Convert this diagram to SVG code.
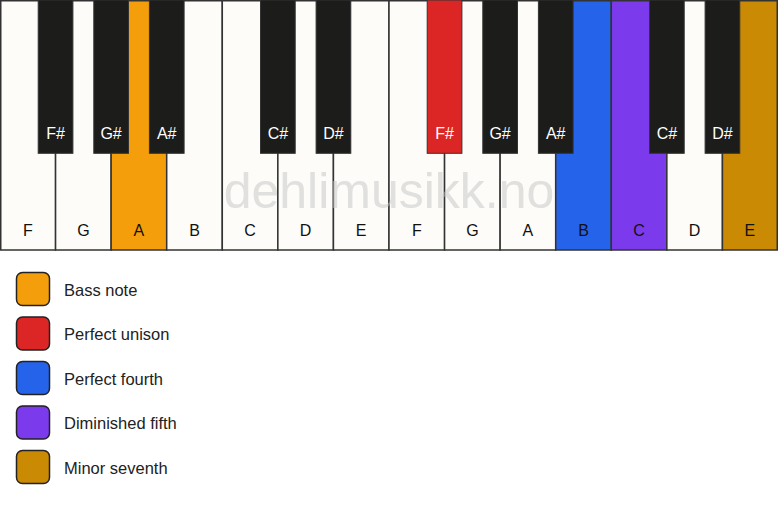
<svg xmlns="http://www.w3.org/2000/svg" width="778" height="506" viewBox="0 0 778 506">
<style>
.w{fill:#fdfcf9;stroke:#333;stroke-width:1.5}
.b{fill:#1c1c1b;stroke:#333;stroke-width:1}
.lw{font-family:"Liberation Sans",Arial,sans-serif;font-size:16px;fill:#111;text-anchor:middle}
.lb{font-family:"Liberation Sans",Arial,sans-serif;font-size:16px;fill:#fff;text-anchor:middle}
.lg{font-family:"Liberation Sans",Arial,sans-serif;font-size:16.5px;fill:#222}
.sw{stroke:#222;stroke-width:1.5}
.wm{font-family:"Liberation Sans",Arial,sans-serif;font-size:50px;fill:#c4c4c4;fill-opacity:0.5;text-anchor:middle}
</style>
<rect x="0" y="0" width="778" height="506" fill="#fff"/>
<g id="white-keys">
<g id="wk-F1"><rect class="w" x="0.75" y="0.75" width="54.82" height="249.25"/><text class="lw" x="27.8" y="236">F</text></g>
<g id="wk-G1"><rect class="w" x="55.57" y="0.75" width="55.57" height="249.25"/><text class="lw" x="83.4" y="236">G</text></g>
<g id="wk-A1"><rect class="w" x="111.14" y="0.75" width="55.57" height="249.25" style="fill:#f59e0b"/><text class="lw" x="138.9" y="236">A</text></g>
<g id="wk-B1"><rect class="w" x="166.71" y="0.75" width="55.57" height="249.25"/><text class="lw" x="194.5" y="236">B</text></g>
<g id="wk-C1"><rect class="w" x="222.29" y="0.75" width="55.57" height="249.25"/><text class="lw" x="250.1" y="236">C</text></g>
<g id="wk-D1"><rect class="w" x="277.86" y="0.75" width="55.57" height="249.25"/><text class="lw" x="305.6" y="236">D</text></g>
<g id="wk-E1"><rect class="w" x="333.43" y="0.75" width="55.57" height="249.25"/><text class="lw" x="361.2" y="236">E</text></g>
<g id="wk-F2"><rect class="w" x="389" y="0.75" width="55.57" height="249.25"/><text class="lw" x="416.8" y="236">F</text></g>
<g id="wk-G2"><rect class="w" x="444.57" y="0.75" width="55.57" height="249.25"/><text class="lw" x="472.4" y="236">G</text></g>
<g id="wk-A2"><rect class="w" x="500.14" y="0.75" width="55.57" height="249.25"/><text class="lw" x="527.9" y="236">A</text></g>
<g id="wk-B2"><rect class="w" x="555.71" y="0.75" width="55.57" height="249.25" style="fill:#2563eb"/><text class="lw" x="583.5" y="236">B</text></g>
<g id="wk-C2"><rect class="w" x="611.29" y="0.75" width="55.57" height="249.25" style="fill:#7c3aed"/><text class="lw" x="639.1" y="236">C</text></g>
<g id="wk-D2"><rect class="w" x="666.86" y="0.75" width="55.57" height="249.25"/><text class="lw" x="694.6" y="236">D</text></g>
<g id="wk-E2"><rect class="w" x="722.43" y="0.75" width="54.82" height="249.25" style="fill:#ca8a04"/><text class="lw" x="749.8" y="236">E</text></g>
</g>
<g id="black-keys">
<g id="bk-Fs1"><rect class="b" x="38.2" y="0" width="34.7" height="153.3"/><text class="lb" x="55.6" y="139">F#</text></g>
<g id="bk-Gs1"><rect class="b" x="93.8" y="0" width="34.7" height="153.3"/><text class="lb" x="111.1" y="139">G#</text></g>
<g id="bk-As1"><rect class="b" x="149.4" y="0" width="34.7" height="153.3"/><text class="lb" x="166.7" y="139">A#</text></g>
<g id="bk-Cs1"><rect class="b" x="260.5" y="0" width="34.7" height="153.3"/><text class="lb" x="277.9" y="139">C#</text></g>
<g id="bk-Ds1"><rect class="b" x="316.1" y="0" width="34.7" height="153.3"/><text class="lb" x="333.4" y="139">D#</text></g>
<g id="bk-Fs2"><rect class="b" x="427.2" y="0" width="34.7" height="153.3" style="fill:#dc2626"/><text class="lb" x="444.6" y="139">F#</text></g>
<g id="bk-Gs2"><rect class="b" x="482.8" y="0" width="34.7" height="153.3"/><text class="lb" x="500.1" y="139">G#</text></g>
<g id="bk-As2"><rect class="b" x="538.4" y="0" width="34.7" height="153.3"/><text class="lb" x="555.7" y="139">A#</text></g>
<g id="bk-Cs2"><rect class="b" x="649.5" y="0" width="34.7" height="153.3"/><text class="lb" x="666.9" y="139">C#</text></g>
<g id="bk-Ds2"><rect class="b" x="705.1" y="0" width="34.7" height="153.3"/><text class="lb" x="722.4" y="139">D#</text></g>
</g>
<text class="wm" x="389" y="207.5">dehlimusikk.no</text>
<g id="connectors"></g>
<g id="legend">
<g id="lg-bass"><rect class="sw" x="16.5" y="272.5" width="33" height="33" rx="6" fill="#f59e0b"/><text class="lg" x="64" y="295.8">Bass note</text></g>
<g id="lg-unison"><rect class="sw" x="16.5" y="317" width="33" height="33" rx="6" fill="#dc2626"/><text class="lg" x="64" y="340.3">Perfect unison</text></g>
<g id="lg-fourth"><rect class="sw" x="16.5" y="361.5" width="33" height="33" rx="6" fill="#2563eb"/><text class="lg" x="64" y="384.8">Perfect fourth</text></g>
<g id="lg-dimfifth"><rect class="sw" x="16.5" y="406" width="33" height="33" rx="6" fill="#7c3aed"/><text class="lg" x="64" y="429.3">Diminished fifth</text></g>
<g id="lg-minseventh"><rect class="sw" x="16.5" y="450.5" width="33" height="33" rx="6" fill="#ca8a04"/><text class="lg" x="64" y="473.8">Minor seventh</text></g>
</g>
</svg>
